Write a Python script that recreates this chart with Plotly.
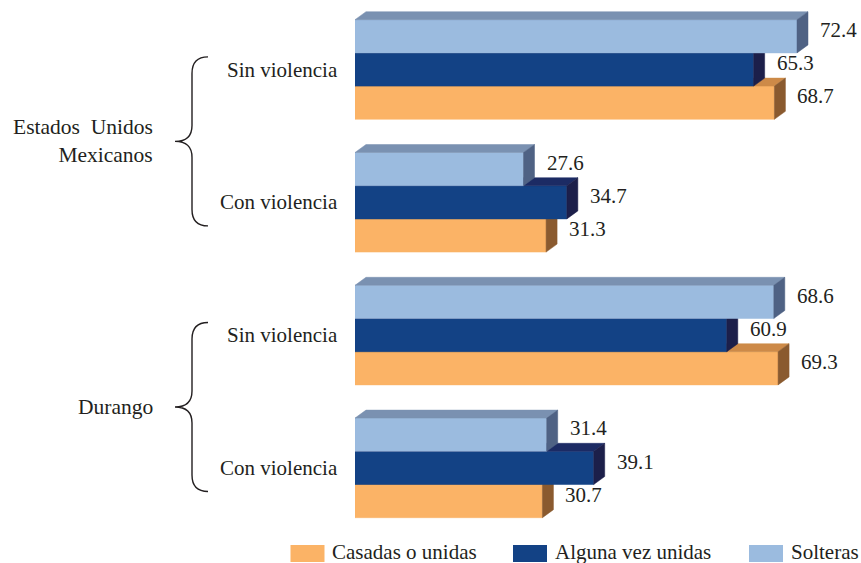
import plotly.graph_objects as go

# data
regions = ["Estados&nbsp;&nbsp;Unidos<br>Mexicanos", "Durango"]
situaciones = ["Sin violencia", "Con violencia"]
series = ["Casadas o unidas", "Alguna vez unidas", "Solteras"]
casadas = [68.7, 31.3, 69.3, 30.7]
alguna_vez = [65.3, 34.7, 60.9, 39.1]
solteras = [72.4, 27.6, 68.6, 31.4]

# styling
front = {"Casadas o unidas": "#fbb366", "Alguna vez unidas": "#134285", "Solteras": "#9bbbdf"}
topc = {"Casadas o unidas": "#cd8a48", "Alguna vez unidas": "#1c2b64", "Solteras": "#7a91b1"}
sidec = {"Casadas o unidas": "#8a5a2f", "Alguna vez unidas": "#1c1f4a", "Solteras": "#4f6284"}
FONT = dict(family="Liberation Serif", size=21, color="#231f20")

W, H = 861, 563
ML, MB = 355, 33
PW, PH = W - ML, H - MB
PX_X = 6.105          # pixels per percentage point
PX_Y = 132.8          # pixels per row
Y_TOP = -69.5 / PX_Y
DX = 11 / PX_X        # depth of 3d effect
DY = 8 / PX_Y
BW = 0.25             # bar thickness (rows)


def px(x):
    return (x - ML) / PW


def py(y):
    return (PH - y) / PH


rows = [(r, s) for r in range(len(regions)) for s in situaciones]
values = {"Casadas o unidas": casadas, "Alguna vez unidas": alguna_vez, "Solteras": solteras}
offsets = {"Casadas o unidas": BW, "Alguna vez unidas": 0.0, "Solteras": -BW}

fig = go.Figure()
annotations = []

# bottom bar first so the bar above hides its top face
for name in series:
    fx, fy, tx, ty, sx, sy = [], [], [], [], [], []
    for i, v in enumerate(values[name]):
        c = i + offsets[name]
        t, b = c - BW / 2, c + BW / 2
        fx += [0, v, v, 0, 0, None]
        fy += [t, t, b, b, t, None]
        tx += [0, DX, v + DX, v, 0, None]
        ty += [t, t - DY, t - DY, t, t, None]
        sx += [v, v + DX, v + DX, v, v, None]
        sy += [t, t - DY, b - DY, b, t, None]
        annotations.append(dict(x=v, y=c - DY * 0.8, xref="x", yref="y", text=f"{v:.1f}",
                                xanchor="left", yanchor="middle", xshift=21,
                                showarrow=False, font=FONT))
    for xs, ys, col in [(fx, fy, front[name]), (tx, ty, topc[name]), (sx, sy, sidec[name])]:
        fig.add_trace(go.Scatter(x=xs, y=ys, fill="toself", fillcolor=col, mode="lines",
                                 line=dict(color=col, width=0.5), hoverinfo="skip",
                                 showlegend=False))

# row labels
for i, (r, s) in enumerate(rows):
    annotations.append(dict(x=0, y=i, xref="paper", yref="y", text=s, xanchor="right",
                            yanchor="middle", xshift=-15, showarrow=False, font=FONT))

# braces + region labels
shapes = []
brace = ("M -147,84.5 Q -163,84.5 -163,68 L -163,16 Q -163,0 -180,0 "
         "Q -163,0 -163,-16 L -163,-68 Q -163,-84.5 -147,-84.5")
for r, name in enumerate(regions):
    mid = 2 * r + 0.5 + 5.5 / PX_Y
    shapes.append(dict(type="path", path=brace, xref="paper", yref="y",
                       xsizemode="pixel", ysizemode="pixel", xanchor=0, yanchor=mid,
                       line=dict(color="#231f20", width=1.4)))
    annotations.append(dict(x=0, y=mid, xref="paper", yref="y", text=name, xanchor="right",
                            yanchor="middle", xshift=-200, align="right",
                            showarrow=False, font=dict(FONT, size=21.5)))

# legend
leg = [("Casadas o unidas", 290.5, 333), ("Alguna vez unidas", 513, 556), ("Solteras", 749, 792)]
for name, x0, xt in leg:
    shapes.append(dict(type="rect", xref="paper", yref="paper", x0=px(x0), x1=px(x0 + 34),
                       y0=py(562), y1=py(545), fillcolor=front[name], line=dict(width=0)))
    annotations.append(dict(x=px(xt - 3), y=py(551.5), xref="paper", yref="paper", text=name,
                            xanchor="left", yanchor="middle", showarrow=False, font=FONT))

fig.update_layout(
    width=W, height=H,
    margin=dict(l=ML, r=0, t=0, b=MB),
    plot_bgcolor="white", paper_bgcolor="white",
    showlegend=False,
    xaxis=dict(visible=False, range=[0, PW / PX_X], fixedrange=True),
    yaxis=dict(visible=False, range=[Y_TOP + PH / PX_Y, Y_TOP], fixedrange=True),
    shapes=shapes,
    annotations=annotations,
)

# page margin off so the figure sits at the window's corner
fig.write_html("out.html", config={"displayModeBar": False},
               post_script="document.body.style.margin='0px';")
